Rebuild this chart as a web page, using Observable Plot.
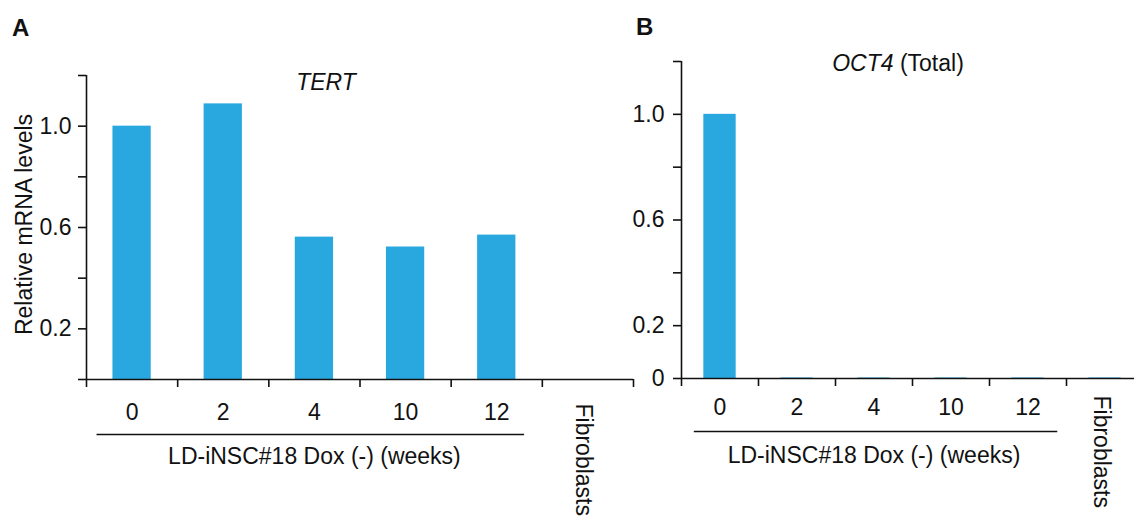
<!DOCTYPE html>
<html>
<head>
<meta charset="utf-8">
<script src="https://cdn.jsdelivr.net/npm/d3@7"></script>
<script src="https://cdn.jsdelivr.net/npm/@observablehq/plot@0.6"></script>
<style>
  html, body { margin: 0; padding: 0; background: #fff; overflow: hidden; }
  #wrap { position: relative; width: 1134px; height: 516px; font-family: "Liberation Sans", Arial, sans-serif; color: #111; }
  .plotbox { position: absolute; top: 0; }
  .plotbox svg { max-width: none !important; }
  .lbl { position: absolute; font-size: 23px; line-height: 23px; white-space: nowrap; }
  .panel { font-weight: bold; font-size: 24px; line-height: 24px; }
</style>
</head>
<body>
<div id="wrap">
  <div class="plotbox" id="pa" style="left:0px; width:640px"></div>
  <div class="plotbox" id="pb" style="left:620px; width:530px"></div>
  <div class="lbl panel" style="left:12px; top:16px">A</div>
  <div class="lbl panel" style="left:636px; top:15px">B</div>
  <div class="lbl" style="left:326px; top:71px; transform:translateX(-50%)"><i>TERT</i></div>
  <div class="lbl" style="left:898px; top:52px; transform:translateX(-50%)"><i>OCT4</i> (Total)</div>
</div>
<script>
// ---- data ----
const categories = ["0", "2", "4", "10", "12", "Fibroblasts"];
const tertValues = [1.0, 1.088, 0.562, 0.523, 0.570, 0];
const oct4Values = [1.0, 0.002, 0.002, 0.002, 0.002, 0.002];
const yTicks = [0, 0.2, 0.4, 0.6, 0.8, 1.0, 1.2];
const tertTickLabels = [0.2, 0.6, 1.0];
const oct4TickLabels = [0, 0.2, 0.6, 1.0];
const groupLabel = "LD-iNSC#18 Dox (-) (weeks)";
const yTitle = "Relative mRNA levels";
const weekCats = categories.slice(0, 5);
const otherCats = categories.slice(5);

const barColor = "#29A8E0";
const ink = "#111";
const fs = 23;

function panel(values, labeled, o) {
  const data = categories.map((c, i) => ({cat: c, i, value: values[i]}));
  const n = categories.length;
  const marks = [
    Plot.rectY(data, {x1: d => d.i + 0.29, x2: d => d.i + 0.71, y1: 0, y2: "value", fill: barColor}),
    Plot.ruleX([0], {y1: 0, y2: 1.2, stroke: ink, strokeWidth: 1.6}),
    Plot.ruleY([0], {x1: 0, x2: n, stroke: ink, strokeWidth: 1.6}),
    Plot.axisY({ticks: yTicks, tickSize: 8, tickPadding: o.tickPad, strokeWidth: 1.6, stroke: ink, label: null,
      tickFormat: v => labeled.includes(v) ? (v === 0 ? "0" : v.toFixed(1)) : "", fontSize: fs, fill: ink}),
    Plot.axisX({ticks: d3.range(n + 1), tickSize: 8, tickFormat: () => "", label: null, strokeWidth: 1.6, stroke: ink}),
    Plot.text(weekCats, {x: d => categories.indexOf(d) + 0.5, text: d => d, frameAnchor: "bottom", dy: o.tickDy, lineAnchor: "middle", fontSize: fs, fill: ink}),
    Plot.text(otherCats, {x: d => categories.indexOf(d) + 0.45, text: d => d, frameAnchor: "bottom", dy: o.fibDy, rotate: 90, textAnchor: "start", lineAnchor: "middle", fontSize: fs, fill: ink}),
    Plot.link([groupLabel], {x1: o.brk[0], x2: o.brk[1], y1: 0, y2: 0, dy: o.lineDy, stroke: ink, strokeWidth: 1.6}),
    Plot.text([groupLabel], {x: weekCats.length / 2, text: d => d, frameAnchor: "bottom", dy: o.groupDy, lineAnchor: "middle", fontSize: fs, fill: ink})
  ];
  if (o.yTitle) {
    marks.push(Plot.text([o.yTitle], {text: d => d, frameAnchor: "left", dx: -62, dy: -3, rotate: -90, textAnchor: "middle", lineAnchor: "middle", fontSize: fs, fill: ink}));
  }
  return Plot.plot({
    width: o.width, height: 516,
    marginLeft: o.ml, marginRight: o.mr, marginTop: o.mt, marginBottom: o.mb,
    style: {fontFamily: "'Liberation Sans', Arial, sans-serif", fontSize: fs + "px", background: "none", overflow: "visible", color: ink},
    x: {domain: [0, n], axis: null},
    y: {domain: [0, 1.2], axis: null},
    marks
  });
}

document.getElementById("pa").appendChild(panel(tertValues, tertTickLabels, {
  width: 640, ml: 86, mr: 7, mt: 75, mb: 137, tickPad: 7,
  tickDy: 33, fibDy: 24, lineDy: 55, groupDy: 77, brk: [0.11, 4.8], yTitle
}));
document.getElementById("pb").appendChild(panel(oct4Values, oct4TickLabels, {
  width: 530, ml: 61, mr: 7, mt: 61, mb: 138, tickPad: 9,
  tickDy: 29, fibDy: 17, lineDy: 53, groupDy: 77, brk: [0.16, 4.88]
}));
</script>
</body>
</html>
